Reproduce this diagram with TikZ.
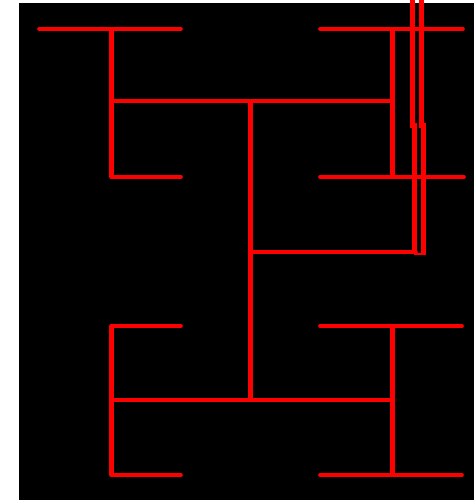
\documentclass[tikz,border=0pt]{standalone}
\usetikzlibrary{positioning}

\begin{document}
\begin{tikzpicture}[
    x=1pt, y=-1pt,
    hwire/.style={draw=red, line width=3.6pt, line cap=round},
    vwire/.style={draw=red, line width=5pt},
]
\useasboundingbox (0,0) rectangle (474,500);
\fill[black] (19,3) rectangle (474,500);
% branch points of the tree
\coordinate (root) at (250,252);
\coordinate (ctop) at (250,101);
\coordinate (cbot) at (250,400);
\coordinate (tl) at (111,101);
\coordinate (tr) at (392,101);
\coordinate (bl) at (111,400);
\coordinate (br) at (392,400);
% central trunk
\draw[vwire] (ctop) -- (cbot);
\draw[hwire] (tl) -- (tr);
\draw[hwire] (bl) -- (br);
% left H pieces
\draw[vwire] (111,29) -- (111,177);
\draw[hwire] (39,29) -- (181,29);
\draw[hwire] (111,177) -- (181,177);
\draw[vwire] (111,326) -- (111,475);
\draw[hwire] (111,326) -- (181,326);
\draw[hwire] (111,475) -- (181,475);
% right H pieces
\draw[vwire] (392,29) -- (392,177);
\draw[hwire] (320,29) -- (463,29);
\draw[hwire] (320,177) -- (464,177);
\draw[vwire] (392,326) -- (392,475);
\draw[hwire] (320,326) -- (462,326);
\draw[hwire] (320,475) -- (462,475);
% clock input pair
\draw[vwire] (412.5,0) -- (412.5,125) -- (414.5,125) -- (414.5,252);
\draw[vwire] (421.5,0) -- (421.5,125) -- (423,125) -- (423,253.5);
\draw[hwire] (root) -- (416,252);
\draw[draw=red, line width=2pt] (414,253.5) -- (425.5,253.5);
\end{tikzpicture}
\end{document}
